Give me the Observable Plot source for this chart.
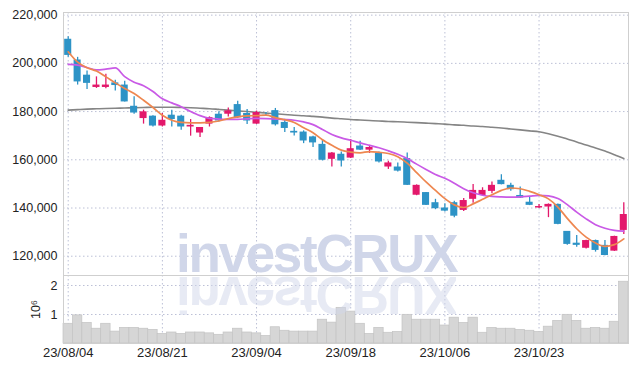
<!DOCTYPE html>
<html>
<head>
<meta charset="utf-8">
<script src="https://cdn.jsdelivr.net/npm/d3@7"></script>
<script src="https://cdn.jsdelivr.net/npm/@observablehq/plot@0.6"></script>
<style>
  html, body { margin: 0; padding: 0; background: #fff; }
  #wrap { position: relative; width: 636px; height: 369px; overflow: hidden; }
  #wrap svg.plot { display: block; }
  #wm {
    position: absolute; left: 176px; top: 233.6px; height: 40px; line-height: 40px;
    font-family: 'Liberation Sans', Arial, sans-serif; font-weight: bold; font-size: 53px;
    letter-spacing: -2.3px; white-space: nowrap; color: #d0d6e9; pointer-events: none;
    -webkit-box-reflect: below 1px linear-gradient(rgba(0,0,0,0.5), rgba(0,0,0,0.5));
  }
</style>
</head>
<body>
<div id="wrap"></div>
<script>
// ---- data ----
const dates = [
  "23/08/04","23/08/07","23/08/08","23/08/09","23/08/10","23/08/11","23/08/14","23/08/16","23/08/17","23/08/18",
  "23/08/21","23/08/22","23/08/23","23/08/24","23/08/25","23/08/28","23/08/29","23/08/30","23/08/31","23/09/01",
  "23/09/04","23/09/05","23/09/06","23/09/07","23/09/08","23/09/11","23/09/12","23/09/13","23/09/14","23/09/15",
  "23/09/18","23/09/19","23/09/20","23/09/21","23/09/22","23/09/25","23/09/26","23/09/27","23/10/04","23/10/05",
  "23/10/06","23/10/10","23/10/11","23/10/12","23/10/13","23/10/16","23/10/17","23/10/18","23/10/19","23/10/20",
  "23/10/23","23/10/24","23/10/25","23/10/26","23/10/27","23/10/30","23/10/31","23/11/01","23/11/02","23/11/03"
];
const opens = [
  210000,201400,195100,190000,190000,191900,191000,182200,177100,178100,
  174000,178500,178100,173600,171100,174800,178900,178900,182900,179200,
  174800,178800,180400,175500,171800,171500,169500,166400,160200,162300,
  160700,165700,164000,162800,157000,157000,160500,145300,146400,142200,
  140000,142200,139000,143600,145200,146900,151500,149400,145200,142400,
  140000,140400,141500,130300,125400,123300,126500,124500,122100,130700
];
const highs = [
  211000,202500,196800,194400,195500,193000,192600,186100,180600,178300,
  179200,180600,178500,176700,173400,177800,179900,181500,184300,180900,
  180200,179600,181300,176800,173400,172000,169800,168400,163000,163200,
  168400,167700,166000,163200,159400,158700,162800,149600,146400,143600,
  141800,142800,143900,149800,148400,150800,153800,150300,148700,144500,
  141500,141700,141700,130300,128600,126600,126700,126500,128300,142200
];
const lows = [
  202500,191000,189200,189600,189500,188500,184000,178900,174800,173600,
  173600,173600,172300,169800,169200,173600,175700,177800,177100,174600,
  174700,178000,174000,171300,169900,166700,165100,159500,157000,157000,
  160500,163900,162600,158700,156000,154900,149300,145100,141000,139300,
  138300,136000,138600,142000,144900,145900,149600,146900,143900,141000,
  139800,136000,133100,124600,123700,123000,121700,120200,122000,129000
];
const closes = [
  203300,192300,191700,191000,191000,190800,184000,179400,179900,174000,
  176400,176700,173600,174300,173400,177500,176100,180300,177400,176100,
  179600,178700,174500,173000,171100,167800,167000,159800,162800,159500,
  164600,164000,165100,159100,158700,155300,149400,149400,141100,139700,
  138700,136600,143100,147300,147300,149400,149700,147600,144100,141100,
  140600,141500,133200,124900,124500,126500,122400,120300,128200,137300
];
// volume in millions of shares (axis unit 10^6)
const volumes = [
  0.68,0.97,0.71,0.51,0.68,0.41,0.54,0.54,0.51,0.47,
  0.33,0.38,0.33,0.38,0.38,0.35,0.30,0.38,0.51,0.38,
  0.35,0.26,0.56,0.44,0.41,0.41,0.41,0.82,0.72,1.23,
  1.10,0.68,0.33,0.54,0.37,0.40,0.99,0.82,0.82,0.82,
  0.62,0.89,0.71,0.89,0.37,0.54,0.51,0.51,0.47,0.44,
  0.40,0.58,0.78,0.99,0.78,0.51,0.54,0.51,0.75,2.13
];
// moving averages as drawn in the reference
const ma5 = [
  204800,200500,198200,196800,194400,191900,189600,187500,184700,181700,
  178500,176400,175500,175300,175300,175500,176100,177100,177800,178200,
  178300,178500,177500,176600,175500,173300,171200,168300,166000,164000,
  163200,162900,163400,163100,162600,161300,158600,154700,150800,147300,
  143900,141300,140200,141700,143600,145500,147300,148300,148000,146900,
  145500,143800,140400,135700,131400,127900,125500,124100,124800,127200
];
const ma10 = [
  199600,199300,198300,197300,197600,198100,194500,192200,190700,188300,
  185300,183600,182000,180000,178300,177200,176900,176800,176800,177000,
  177200,177100,176900,176700,176400,175700,174600,172600,170500,169100,
  168100,167000,166000,165000,163700,162300,160500,158200,156000,153900,
  152300,150300,148000,146300,145300,144800,144600,144500,144600,144900,
  145200,145000,143900,141400,138300,135500,133100,131600,130700,130400
];
const maLong = [
  180600,180800,181000,181150,181300,181400,181500,181600,181700,181800,
  181800,181800,181700,181600,181400,181200,180900,180600,180300,180000,
  179700,179400,179100,178800,178500,178300,178000,177700,177300,177000,
  176700,176500,176300,176100,175900,175800,175600,175400,175200,175000,
  174800,174500,174300,174000,173800,173500,173200,172800,172400,172000,
  171600,170800,169800,168600,167400,166100,164900,163600,162100,160500
];
const dateTicks = ["23/08/04","23/08/21","23/09/04","23/09/18","23/10/06","23/10/23"];
const priceTicks = [120000,140000,160000,180000,200000,220000];
const volumeTicks = [1, 2];

// ---- styling ----
const upColor = "#e3186b";
const downColor = "#2d93c6";
const gridColor = "#bcc0d6";
const frameColor = "#cfcfcf";
const font = "'Liberation Sans', Arial, sans-serif";

const rows = dates.map((d, i) => ({
  date: d, open: opens[i], high: highs[i], low: lows[i], close: closes[i],
  volume: volumes[i], ma5: ma5[i], ma10: ma10[i], maLong: maLong[i]
}));
const up = rows.filter(r => r.close >= r.open);
const down = rows.filter(r => r.close < r.open);

const W = 636;
const ML = 63, MR = 8;

const main = Plot.plot({
  width: W, height: 275,
  marginTop: 12, marginBottom: 0, marginLeft: ML, marginRight: MR,
  style: {fontFamily: font, fontSize: "12.5px", color: "#222", background: "transparent"},
  x: {type: "band", domain: dates, paddingInner: 0.25, paddingOuter: 0.125, round: false, axis: null, label: null},
  y: {domain: [112000, 221100], axis: null, label: null},
  marks: [
    Plot.gridY(priceTicks, {stroke: gridColor, strokeOpacity: 1, strokeDasharray: "1.5,2.5"}),
    Plot.gridX(dateTicks, {stroke: gridColor, strokeOpacity: 1, strokeDasharray: "1.5,2.5"}),
    Plot.frame({stroke: frameColor}),
    Plot.axisY(priceTicks, {tickSize: 0, tickPadding: 6, tickFormat: d3.format(","), fontSize: 12.5, fill: "#222", label: null}),
    Plot.line(rows, {x: "date", y: "maLong", stroke: "#858585", strokeWidth: 1.6, curve: "monotone-x"}),
    Plot.ruleX(up, {x: "date", y1: "low", y2: "high", stroke: upColor, strokeWidth: 1.3}),
    Plot.ruleX(down, {x: "date", y1: "low", y2: "high", stroke: downColor, strokeWidth: 1.3}),
    Plot.barY(up, {x: "date", y1: "open", y2: "close", fill: upColor}),
    Plot.barY(down, {x: "date", y1: "open", y2: "close", fill: downColor}),
    Plot.line(rows, {x: "date", y: "ma10", stroke: "#c95ae6", strokeWidth: 1.7, curve: "monotone-x"}),
    Plot.line(rows, {x: "date", y: "ma5", stroke: "#ee8750", strokeWidth: 1.7, curve: "monotone-x"})
  ]
});

const vol = Plot.plot({
  width: W, height: 94,
  marginTop: 0, marginBottom: 26, marginLeft: ML, marginRight: MR,
  style: {fontFamily: font, fontSize: "12.5px", color: "#222", background: "transparent"},
  x: {type: "band", domain: dates, padding: 0, round: false, axis: null, label: null},
  y: {domain: [0, 2.345], axis: null},
  marks: [
    Plot.gridY(volumeTicks, {stroke: gridColor, strokeOpacity: 1, strokeDasharray: "1.5,2.5"}),
    Plot.gridX(dateTicks, {stroke: gridColor, strokeOpacity: 1, strokeDasharray: "1.5,2.5"}),
    Plot.barY(rows, {x: "date", y: "volume", fill: "#d6d6d6", stroke: "#c3c3c3", strokeWidth: 0.7}),
    Plot.frame({stroke: frameColor}),
    Plot.axisY(volumeTicks, {tickSize: 0, tickPadding: 6, fontSize: 12.5, fill: "#222",
      label: "10⁶", labelAnchor: "center", labelOffset: 32, labelArrow: "none"}),
    Plot.axisX(dateTicks, {tickSize: 0, tickPadding: 4, fontSize: 13, fill: "#222", label: null})
  ]
});

const wrap = document.getElementById("wrap");
main.classList.add("plot");
vol.classList.add("plot");
wrap.appendChild(main);
wrap.appendChild(vol);

// watermark (single text, mirrored below by CSS box-reflect)
const wm = document.createElement("div");
wm.id = "wm";
wm.textContent = "investCRUX";
wrap.appendChild(wm);
</script>
</body>
</html>
